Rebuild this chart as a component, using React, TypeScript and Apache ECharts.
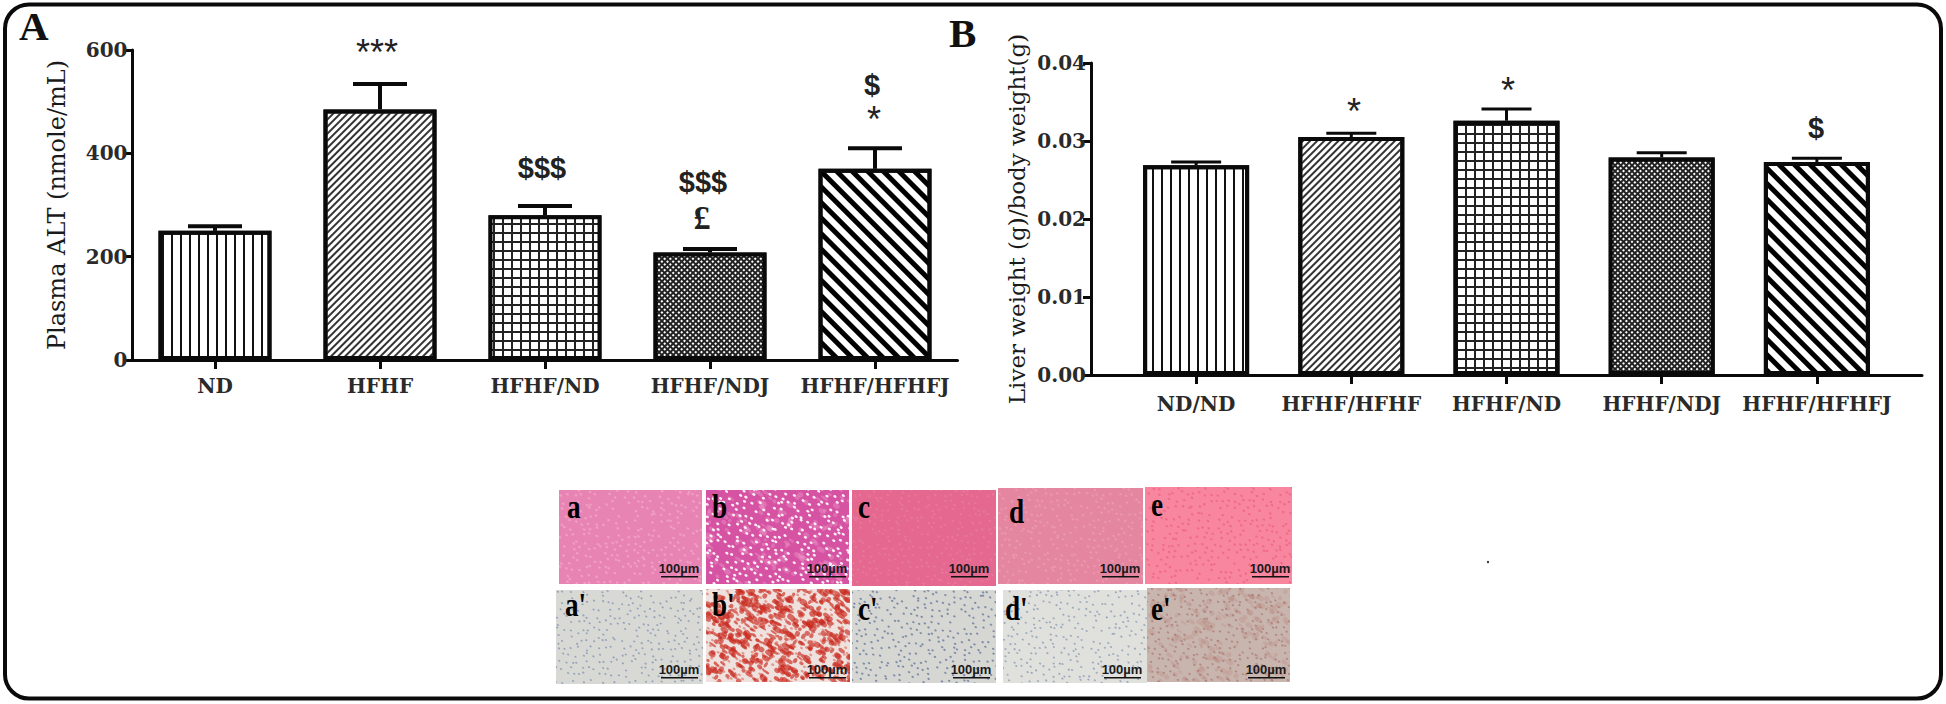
import React, { useEffect, useRef } from "react";
import * as echarts from "echarts";

// ---------- data ----------
const categoriesA = ["ND", "HFHF", "HFHF/ND", "HFHF/NDJ", "HFHF/HFHFJ"];
const valuesA = [250, 485, 280, 208, 370];
const upperA = [259, 534, 298, 215, 410];
const ticksA = [0, 600, 200];

const categoriesB = ["ND/ND", "HFHF/HFHF", "HFHF/ND", "HFHF/NDJ", "HFHF/HFHFJ"];
const valuesB = [0.0269, 0.0305, 0.0326, 0.0279, 0.0273];
const upperB = [0.0273, 0.031, 0.0341, 0.0285, 0.0278];
const ticksB = [0, 0.04, 0.01];

const tileLabels = ["a", "b", "c", "d", "e", "a'", "b'", "c'", "d'", "e'"];
const scaleLabel = "100\u00b5m";

const annotationTexts = ["***", "$$$", "$$$", "\u00a3", "$", "*", "*", "*", "$"];

// ---------- layout / style (not data) ----------
const annotationPos = [
  [377, 52, 36, "star"], [542, 168, 29, "cur"], [703, 182, 29, "cur"], [702, 217, 34, "pound"],
  [872, 85, 29, "cur"], [874, 119, 36, "star"], [1354, 111, 36, "star"], [1508, 90, 36, "star"], [1816, 128, 29, "cur"],
];

const decals: any[] = [
  { symbol: "rect", symbolSize: 1, color: "#111", dashArrayX: [2, 7], dashArrayY: [1, 0] },
  { symbol: "rect", symbolSize: 1, color: "#333", dashArrayX: [1, 0], dashArrayY: [2, 3], rotation: -Math.PI / 4 },
  { symbol: "rect", symbolSize: 1, color: "#fff", dashArrayX: [7, 2], dashArrayY: [7, 2] },
  { symbol: "rect", symbolSize: 1, color: "#fff", dashArrayX: [2, 2], dashArrayY: [2, 2], rotation: Math.PI / 4 },
  { symbol: "rect", symbolSize: 1, color: "#000", dashArrayX: [1, 0], dashArrayY: [5, 6], rotation: Math.PI / 4 },
];
const barFills = ["#fff", "#fff", "#222", "#222", "#fff"];

const SERIF = "'DejaVu Serif'";
const INK = "#1a1a1a";

type TileSpec = { x: number; y: number; w: number; h: number; base: string; dot: string; dotR: number; alpha: number; blob?: string; blobAlpha?: number; blobN?: number };
const tiles: TileSpec[] = [
  { x: 559, y: 490, w: 143, h: 94, base: "#e884b3", dot: "#f5b5d0", dotR: 1.5, alpha: 0.55 },
  { x: 706, y: 490, w: 143, h: 94, base: "#d652a2", dot: "#ffffff", dotR: 1.7, alpha: 0.9, blob: "#ee9ccb", blobAlpha: 0.4, blobN: 160 },
  { x: 852, y: 490, w: 144, h: 96, base: "#e4688f", dot: "#ee90aa", dotR: 1.4, alpha: 0.4 },
  { x: 998, y: 488, w: 145, h: 96, base: "#e586a1", dot: "#f2afc0", dotR: 1.4, alpha: 0.45 },
  { x: 1145, y: 487, w: 147, h: 97, base: "#f8869f", dot: "#e9506f", dotR: 1.4, alpha: 0.5 },
  { x: 556, y: 590, w: 147, h: 94, base: "#d8d9d5", dot: "#7f92b2", dotR: 1.2, alpha: 0.75 },
  { x: 706, y: 589, w: 144, h: 93, base: "#efe2de", dot: "#d8503f", dotR: 1.6, alpha: 0.5, blob: "#c92a1e", blobAlpha: 0.65, blobN: 520 },
  { x: 852, y: 590, w: 144, h: 93, base: "#d6d6d2", dot: "#66799e", dotR: 1.3, alpha: 0.8 },
  { x: 1003, y: 590, w: 144, h: 93, base: "#e0e0dc", dot: "#8597b4", dotR: 1.2, alpha: 0.75 },
  { x: 1147, y: 588, w: 143, h: 94, base: "#c8b5ae", dot: "#a0665e", dotR: 1.3, alpha: 0.55, blob: "#b36a5f", blobAlpha: 0.18, blobN: 200 },
];
const tileLabelPos = [
  [567, 507], [712, 507], [858, 507], [1009, 512], [1151, 505],
  [565, 605], [712, 605], [858, 609], [1005, 609], [1151, 609],
];
const scaleCx = [679, 827, 969, 1120, 1270, 679, 827, 971, 1122, 1266];

const noise = (i: number, j: number, k: number) => {
  const s = Math.sin(i * 12.9898 + j * 78.233 + k * 37.719) * 43758.5453;
  return s - Math.floor(s);
};

function tileImage(t: TileSpec, seed: number): string {
  const c = document.createElement("canvas");
  c.width = t.w;
  c.height = t.h;
  const g = c.getContext("2d") as CanvasRenderingContext2D;
  g.fillStyle = t.base;
  g.fillRect(0, 0, t.w, t.h);
  g.filter = "blur(0.6px)";
  if (t.blob) {
    g.globalAlpha = t.blobAlpha || 0.4;
    g.fillStyle = t.blob;
    for (let i = 0; i < (t.blobN || 100); i++) {
      const x = noise(i, seed, 1) * t.w;
      const y = noise(i, seed, 2) * t.h;
      g.beginPath();
      g.ellipse(x, y, 1.5 + noise(i, seed, 3) * 3, 1 + noise(i, seed, 4) * 2, 0.6, 0, Math.PI * 2);
      g.fill();
    }
  }
  g.globalAlpha = t.alpha;
  g.fillStyle = t.dot;
  const step = 6.5;
  for (let j = 0; j < t.h / step + 1; j++) {
    for (let i = 0; i < t.w / step + 1; i++) {
      const n = noise(i, j, seed);
      if (n < 0.2) continue;
      const px = i * step + (j % 2) * 3.2 + (noise(i, j, seed + 2) - 0.5) * 5;
      const py = j * step + (noise(j, i, seed + 5) - 0.5) * 5;
      g.beginPath();
      g.ellipse(px, py, t.dotR, t.dotR * 0.75, 0.5, 0, Math.PI * 2);
      g.fill();
    }
  }
  return c.toDataURL("image/png");
}

function barSeries(values: number[], axis: number, barWidth: number, bw: number) {
  return {
    type: "bar",
    xAxisIndex: axis,
    yAxisIndex: axis,
    barWidth,
    silent: true,
    data: values.map((v, i) => ({
      value: [i, v],
      itemStyle: { color: barFills[i], borderColor: "#0a0a0a", borderWidth: bw, decal: decals[i] },
    })),
  };
}

function errorSeries(values: number[], upper: number[], axis: number, capHalf: number, lw: number) {
  return {
    type: "custom",
    xAxisIndex: axis,
    yAxisIndex: axis,
    silent: true,
    clip: false,
    data: values.map((v, i) => [i, v, upper[i]]),
    encode: { x: 0, y: [1, 2] },
    renderItem: (_p: any, api: any) => {
      const a = api.coord([api.value(0), api.value(1)]);
      const b = api.coord([api.value(0), api.value(2)]);
      const style = { stroke: "#0a0a0a", lineWidth: lw };
      return {
        type: "group",
        children: [
          { type: "line", shape: { x1: a[0], y1: a[1], x2: b[0], y2: b[1] }, style },
          { type: "line", shape: { x1: b[0] - capHalf, y1: b[1], x2: b[0] + capHalf, y2: b[1] }, style },
        ],
      };
    },
  };
}

function xAxis(gridIndex: number, cats: string[], pad: number, margin: number) {
  const idx = cats.map((_, i) => i);
  return {
    type: "value",
    gridIndex,
    min: -pad,
    max: cats.length - 1 + pad,
    splitLine: { show: false },
    axisLine: { onZero: false, lineStyle: { color: "#0a0a0a", width: 3 } },
    axisTick: { length: 9, customValues: idx, lineStyle: { color: "#0a0a0a", width: 3 } },
    axisLabel: {
      customValues: idx,
      margin,
      fontFamily: SERIF,
      fontSize: 20,
      color: "#2a2a2a",
      fontWeight: "bold",
      formatter: (v: number) => cats[Math.round(v)],
    },
  };
}

function yAxis(gridIndex: number, t: number[], name: string, nameGap: number, nameSize: number, digits: number) {
  return {
    type: "value",
    gridIndex,
    min: t[0],
    max: t[1],
    interval: t[2],
    name,
    nameLocation: "middle",
    nameGap,
    nameRotate: 90,
    nameTextStyle: { fontFamily: SERIF, fontSize: nameSize, color: INK },
    splitLine: { show: false },
    axisLine: { show: true, onZero: false, lineStyle: { color: "#0a0a0a", width: 3 } },
    axisTick: { show: true, length: 8, lineStyle: { color: "#0a0a0a", width: 3 } },
    axisLabel: {
      margin: 5,
      fontFamily: SERIF,
      fontSize: 20,
      fontWeight: "bold",
      color: "#2a2a2a",
      formatter: (v: number) => v.toFixed(digits),
    },
  };
}

export default function App() {
  const ref = useRef<HTMLDivElement>(null);
  useEffect(() => {
    document.body.style.margin = "0";
    document.body.style.overflow = "hidden";
    const chart = echarts.init(ref.current as HTMLDivElement, undefined, { renderer: "svg" });

    const graphics: any[] = [
      { type: "rect", silent: true, z: 0, shape: { x: 5, y: 4.5, width: 1936, height: 694, r: 24 }, style: { fill: "#fff", stroke: "#0a0a0a", lineWidth: 4 } },
      { type: "text", silent: true, x: 19, y: 26, style: { text: "A", font: "bold 41px 'Liberation Serif'", fill: "#111", textVerticalAlign: "middle" } },
      { type: "text", silent: true, x: 949, y: 33, style: { text: "B", font: "bold 41px 'Liberation Serif'", fill: "#111", textVerticalAlign: "middle" } },
      { type: "circle", silent: true, shape: { cx: 1488, cy: 562, r: 1.2 }, style: { fill: "#333" } },
    ];
    annotationTexts.forEach((text, i) => {
      const [x, y, size, kind] = annotationPos[i] as [number, number, number, string];
      const font = kind === "star" ? `${size}px 'Liberation Sans'` : kind === "cur" ? `bold ${size}px 'Liberation Sans'` : `bold ${size}px 'Liberation Serif'`;
      graphics.push({
        type: "text",
        silent: true,
        x,
        y,
        style: { text, font, fill: "#222", textAlign: "center", textVerticalAlign: "middle" },
      });
    });
    tiles.forEach((t, i) => {
      graphics.push({ type: "image", silent: true, style: { image: tileImage(t, i + 1), x: t.x, y: t.y, width: t.w, height: t.h } });
      const [lx, ly] = tileLabelPos[i];
      graphics.push({ type: "text", silent: true, z: 5, x: lx, y: ly, scaleX: 0.8, style: { text: tileLabels[i], font: "bold 34px 'Liberation Serif'", fill: "#000", textVerticalAlign: "middle" } });
      const sy = i < 5 ? 568 : 669;
      graphics.push({ type: "text", silent: true, z: 5, x: scaleCx[i], y: sy, style: { text: scaleLabel, font: "bold 13px 'Liberation Sans'", fill: "#1a1a1a", textAlign: "center", textVerticalAlign: "middle" } });
      graphics.push({ type: "rect", silent: true, z: 5, shape: { x: scaleCx[i] - 18, y: sy + 8, width: 37, height: 1.6 }, style: { fill: "#111" } });
    });

    chart.setOption({
      animation: false,
      backgroundColor: "#fff",
      grid: [
        { left: 132.5, top: 50, width: 825, height: 310, containLabel: false },
        { left: 1091, top: 63, width: 831, height: 312, containLabel: false },
      ],
      xAxis: [xAxis(0, categoriesA, 0.5, 16), xAxis(1, categoriesB, 0.6774, 19)],
      yAxis: [
        yAxis(0, ticksA, "Plasma ALT (nmole/mL)", 64, 24, 0),
        yAxis(1, ticksB, "Liver weight (g)/body weight(g)", 63, 23, 2),
      ],
      series: [
        errorSeries(valuesA, upperA, 0, 27, 4),
        barSeries(valuesA, 0, 113, 4),
        errorSeries(valuesB, upperB, 1, 25, 3),
        barSeries(valuesB, 1, 106, 4),
      ],
      graphic: { elements: graphics },
    });
    return () => chart.dispose();
  }, []);
  return <div ref={ref} style={{ position: "fixed", left: 0, top: 0, width: 1946, height: 704 }} />;
}
